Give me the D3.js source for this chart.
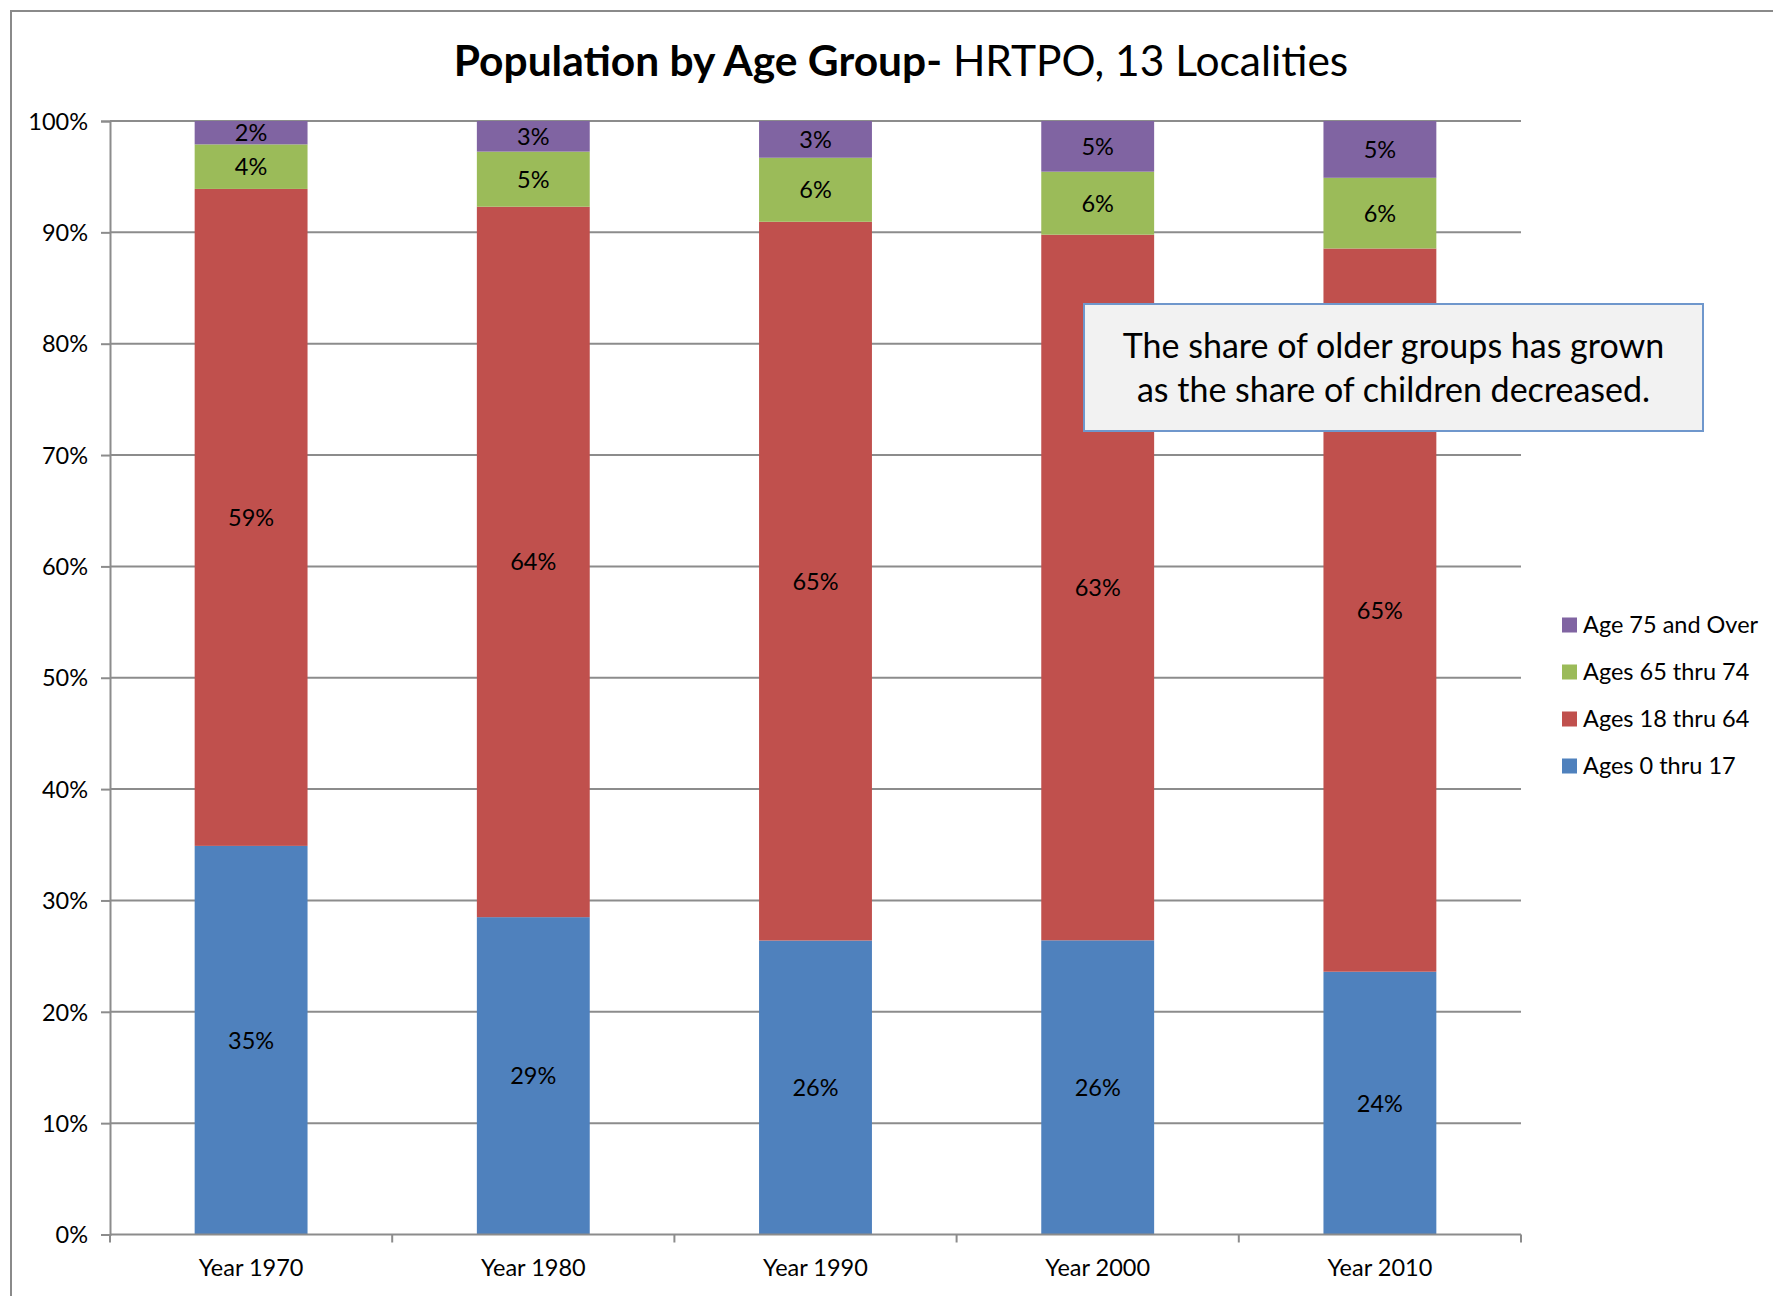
<!DOCTYPE html>
<html>
<head>
<meta charset="utf-8">
<script src="https://cdn.jsdelivr.net/npm/d3@7"></script>
<style>
  html, body { margin: 0; padding: 0; background: #ffffff; }
  svg { display: block; }
  text { font-family: Lato, "Open Sans", sans-serif; fill: #000; }
</style>
</head>
<body>
<svg id="chart" width="1773" height="1296"></svg>
<script>
// ---- Data ----
const years = ["Year 1970", "Year 1980", "Year 1990", "Year 2000", "Year 2010"];
const seriesNames = ["Ages 0 thru 17", "Ages 18 thru 64", "Ages 65 thru 74", "Age 75 and Over"];
const ages0to17   = [34.9, 28.5, 26.4, 26.42, 23.6];
const ages18to64  = [59.0, 63.8, 64.55, 63.37, 64.95];
const ages65to74  = [4.0, 4.95, 5.75, 5.66, 6.35];
const age75over   = [2.1, 2.75, 3.3, 4.55, 5.1];
const yTicks = [0, 10, 20, 30, 40, 50, 60, 70, 80, 90, 100];
const seriesColors = ["#4f81bd", "#c0504d", "#9bbb59", "#8064a2"];
const titleBold = "Population by Age Group-";
const titleRest = " HRTPO, 13 Localities";
const noteLines = ["The share of older groups has grown", "as the share of children decreased."];

const seriesValues = [ages0to17, ages18to64, ages65to74, age75over];
const table = years.map((y, i) => {
  const row = { year: y };
  seriesNames.forEach((s, j) => row[s] = seriesValues[j][i]);
  return row;
});

// ---- Layout ----
const svg = d3.select("#chart");
const plot = { left: 110, right: 1521, top: 121, bottom: 1234.5 };
const gridColor = "#8c8c8c";
const baseFont = 23.5;

// outer chart border (top and left visible)
svg.append("path")
  .attr("d", `M11,1296 L11,11 L1773,11`)
  .attr("fill", "none").attr("stroke", "#8a8a8a").attr("stroke-width", 2);

const x = d3.scaleBand().domain(years).range([plot.left, plot.right]).padding(0);
const y = d3.scaleLinear().domain([0, 100]).range([plot.bottom, plot.top]);

// gridlines
svg.append("g").selectAll("line").data(yTicks.filter(t => t > 0)).join("line")
  .attr("x1", plot.left).attr("x2", plot.right)
  .attr("y1", d => y(d)).attr("y2", d => y(d))
  .attr("stroke", gridColor).attr("stroke-width", 2);

// y axis
const yAxis = d3.axisLeft(y).tickValues(yTicks).tickFormat(d => d + "%").tickSize(9).tickPadding(13);
const gy = svg.append("g").attr("transform", `translate(${plot.left},0)`).call(yAxis);
gy.select(".domain").attr("stroke", gridColor).attr("stroke-width", 2);
gy.selectAll(".tick line").attr("stroke", gridColor).attr("stroke-width", 2);
gy.selectAll(".tick text").attr("font-size", baseFont).attr("font-family", "Lato").attr("fill", "#000").attr("dy", "0.35em");

// stacked bars
const stack = d3.stack().keys(seriesNames);
const stacked = stack(table);
const barW = x.bandwidth() * 0.4;
const barOff = x.bandwidth() * 0.3;

const layers = svg.append("g").selectAll("g").data(stacked).join("g")
  .attr("fill", (d, i) => seriesColors[i]);
layers.selectAll("rect").data(d => d).join("rect")
  .attr("x", d => x(d.data.year) + barOff)
  .attr("width", barW)
  .attr("y", d => y(d[1]))
  .attr("height", d => y(d[0]) - y(d[1]));

// data labels
const labels = svg.append("g");
stacked.forEach(layer => {
  layer.forEach(d => {
    labels.append("text")
      .attr("x", x(d.data.year) + x.bandwidth() / 2)
      .attr("y", (y(d[0]) + y(d[1])) / 2)
      .attr("dy", "0.36em")
      .attr("text-anchor", "middle")
      .attr("font-size", baseFont)
      .text(Math.round(d[1] - d[0]) + "%");
  });
});

// x axis
const xEdges = years.map(yr => x(yr)).concat([plot.right]);
svg.append("line").attr("x1", plot.left).attr("x2", plot.right)
  .attr("y1", plot.bottom).attr("y2", plot.bottom)
  .attr("stroke", gridColor).attr("stroke-width", 2);
svg.append("g").selectAll("line").data(xEdges).join("line")
  .attr("x1", d => d).attr("x2", d => d)
  .attr("y1", plot.bottom).attr("y2", plot.bottom + 8)
  .attr("stroke", gridColor).attr("stroke-width", 2);
svg.append("g").selectAll("text").data(years).join("text")
  .attr("x", d => x(d) + x.bandwidth() / 2)
  .attr("y", 1276)
  .attr("text-anchor", "middle")
  .attr("font-size", baseFont)
  .text(d => d);

// title
const title = svg.append("text").attr("x", 901).attr("y", 76).attr("text-anchor", "middle")
  .attr("font-size", 42.5);
title.append("tspan").attr("font-weight", "bold").text(titleBold);
title.append("tspan").attr("font-weight", "normal").text(titleRest);

// legend (reverse order: top is last series)
const legendOrder = [3, 2, 1, 0];
const legend = svg.append("g");
legendOrder.forEach((si, k) => {
  const cy = 625 + k * 47;
  legend.append("rect").attr("x", 1562).attr("y", cy - 7.5).attr("width", 15).attr("height", 15)
    .attr("fill", seriesColors[si]);
  legend.append("text").attr("x", 1583).attr("y", cy).attr("dy", "0.36em")
    .attr("font-size", baseFont).text(seriesNames[si]);
});

// annotation box
svg.append("rect").attr("x", 1084).attr("y", 304).attr("width", 619).attr("height", 127)
  .attr("fill", "#f2f2f2").attr("stroke", "#6f97cc").attr("stroke-width", 2);
noteLines.forEach((t, i) => {
  svg.append("text").attr("x", 1393.5).attr("y", 358 + i * 44).attr("text-anchor", "middle")
    .attr("font-size", 34).text(t);
});
</script>
</body>
</html>
